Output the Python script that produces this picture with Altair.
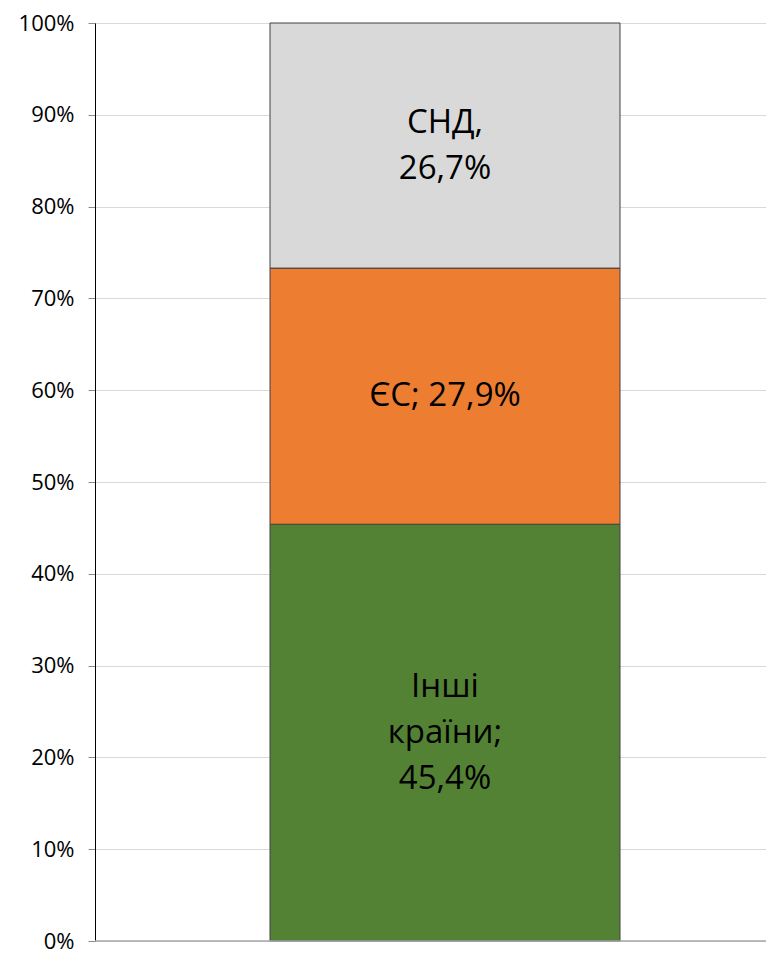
import altair as alt
import pandas as pd

categories = ["Інші країни", "ЄС", "СНД"]
values = [45.4, 27.9, 26.7]
labels = ["Інші\nкраїни;\n45,4%", "ЄС; 27,9%", "СНД,\n26,7%"]
colors = ["#548235", "#ED7D31", "#D9D9D9"]
order = [0, 1, 2]

df = pd.DataFrame({
    "bar": ["2019"] * 3,
    "cat": categories,
    "value": values,
    "label": labels,
    "ord": order,
})

FONT = "Open Sans"
PLOT_H = 918
LINE_H = 46
line_units = LINE_H / PLOT_H * 100

base = alt.Chart(df).transform_stack(
    stack="value", groupby=["bar"], as_=["y0", "y1"], sort=[alt.SortField("ord", order="ascending")]
).transform_calculate(
    nlines="split(datum.label, '\\n').length",
).transform_calculate(
    ty=f"(datum.y0 + datum.y1) / 2 + (datum.nlines - 1) / 2 * {line_units}"
)

xenc = alt.X("bar:N", axis=None,
             scale=alt.Scale(range=[0, 700], paddingInner=0, paddingOuter=0.5))

yscale = alt.Scale(domain=[0, 100], nice=False)

bars = base.mark_bar(stroke="#404040", strokeWidth=1).encode(
    x=xenc,
    y=alt.Y("y0:Q", scale=yscale,
            axis=alt.Axis(values=list(range(0, 101, 10)),
                          labelExpr="datum.value + '%'",
                          labelFont=FONT, labelFontSize=22, labelColor="#000000",
                          labelPadding=14, tickSize=7, tickColor="#8c8c8c",
                          domainColor="#000000", gridColor="#d9d9d9",
                          title=None)),
    y2="y1:Q",
    color=alt.Color("cat:N", scale=alt.Scale(domain=categories, range=colors), legend=None),
)

text = base.mark_text(font=FONT, fontSize=33, color="#000000", lineBreak="\n",
                      lineHeight=LINE_H, baseline="middle", align="center").encode(
    x=xenc,
    y=alt.Y("ty:Q", scale=yscale),
    text="label:N",
)

xaxis_line = alt.Chart(pd.DataFrame({"v": [0]})).mark_rule(color="#a6a6a6", strokeWidth=1.5).encode(
    y=alt.Y("v:Q", scale=yscale)
)

chart = alt.layer(bars, text, xaxis_line).properties(
    width=671, height=PLOT_H,
    autosize=alt.AutoSizeParams(type="none"),
    padding={"left": 87, "top": 15, "right": 0, "bottom": 13},
).configure_view(stroke=None).configure_axis(grid=True)

chart.save("out.html", embed_options={"renderer": "svg", "actions": False})
